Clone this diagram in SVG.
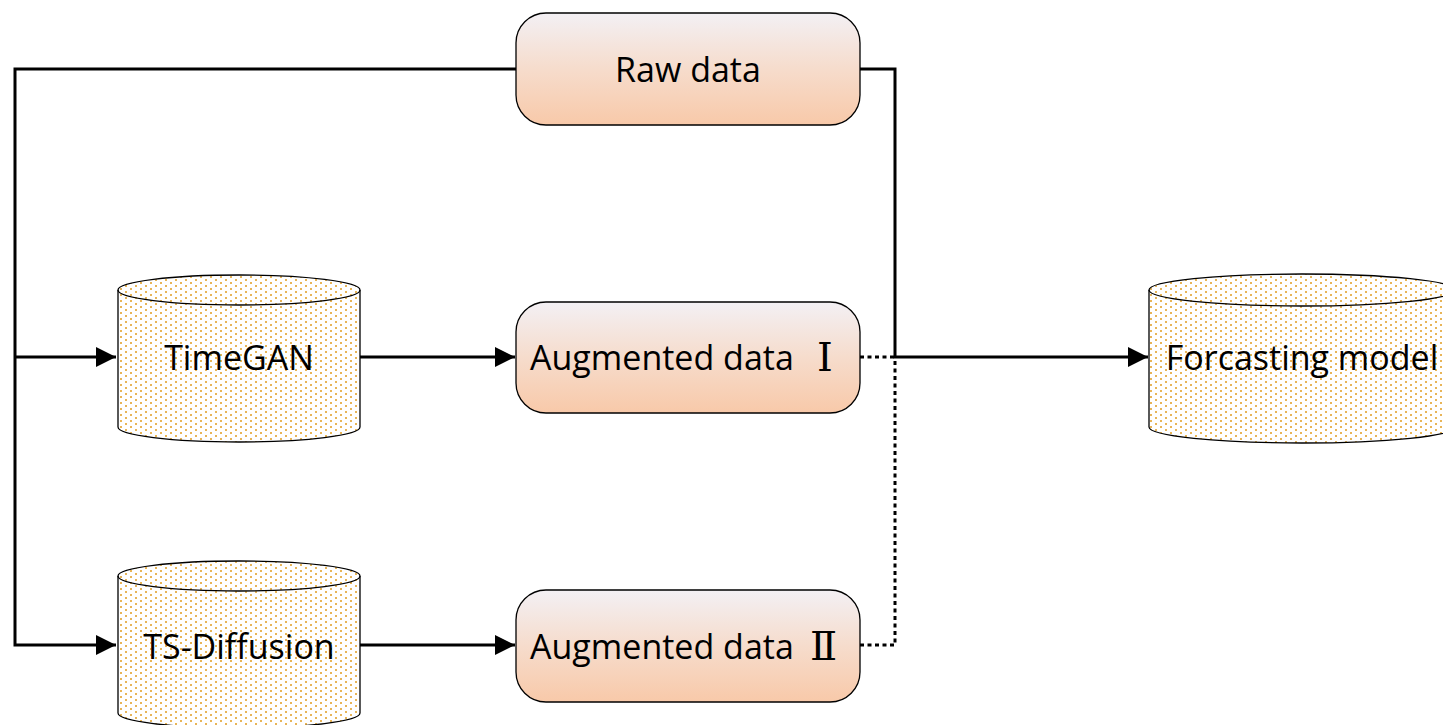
<svg xmlns="http://www.w3.org/2000/svg" width="1443" height="725" viewBox="0 0 1443 725">
<style>
  .box { stroke: #000; stroke-width: 1.3; fill: url(#peach); }
  .cyl { stroke: #000; stroke-width: 1.3; fill: url(#dots); }
  .cyltop { stroke: #000; stroke-width: 1.3; fill: none; }
  .lbl { font-family: "Open Sans", "Noto Sans", sans-serif; font-size: 34px; fill: #000; text-anchor: middle; dominant-baseline: central; }
  .lbls { font-family: "Open Sans", "Noto Sans", sans-serif; font-size: 34px; fill: #000; text-anchor: start; dominant-baseline: central; }
  .num { font-family: "DejaVu Serif", "Liberation Serif", serif; font-size: 40px; font-weight: normal; }
  .conn { stroke: #000; stroke-width: 3; fill: none; }
  .dot { stroke: #000; stroke-width: 3; fill: none; stroke-dasharray: 4 3.5; }
</style>
<defs>
  <linearGradient id="peach" x1="0" y1="0" x2="0" y2="1">
    <stop offset="0" stop-color="#f3f0f4"/>
    <stop offset="0.5" stop-color="#f6dccc"/>
    <stop offset="1" stop-color="#f8c9a9"/>
  </linearGradient>
  <pattern id="dots" patternUnits="userSpaceOnUse" width="10" height="6">
    <rect width="10" height="6" fill="#fff"/>
    <rect x="0" y="0" width="2" height="2" fill="#e8b558"/>
    <rect x="5" y="3" width="2" height="2" fill="#e8b558"/>
  </pattern>
  <marker id="arr" markerUnits="userSpaceOnUse" markerWidth="22" markerHeight="22" refX="20" refY="10" orient="auto">
    <path d="M0,0 L20,10 L0,20 Z" fill="#000"/>
  </marker>
</defs>

<g id="connectors">
  <polyline class="conn" points="516,69 15,69 15,645 116,645" marker-end="url(#arr)"/>
  <line class="conn" x1="15" y1="357" x2="116" y2="357" marker-end="url(#arr)"/>
  <line class="conn" x1="360" y1="357" x2="515" y2="357" marker-end="url(#arr)"/>
  <line class="conn" x1="360" y1="645" x2="515" y2="645" marker-end="url(#arr)"/>
  <polyline class="conn" points="860,69 895,69 895,357 1148,357" marker-end="url(#arr)"/>
  <line class="dot" x1="860" y1="357" x2="895" y2="357"/>
  <polyline class="dot" points="860,645 895,645 895,357"/>
</g>

<g id="raw-data">
  <rect class="box" x="516" y="13" width="344" height="112" rx="30" ry="30"/>
  <text class="lbl" x="688" y="69">Raw data</text>
</g>

<g id="aug1">
  <rect class="box" x="516" y="302" width="344" height="111" rx="30" ry="30"/>
  <text class="lbls" x="530" y="357">Augmented data <tspan class="num" x="817">Ⅰ</tspan></text>
</g>

<g id="aug2">
  <rect class="box" x="516" y="590" width="344" height="112" rx="30" ry="30"/>
  <text class="lbls" x="530" y="646">Augmented data <tspan class="num" x="810">Ⅱ</tspan></text>
</g>

<g id="timegan">
  <path class="cyl" d="M118,290 A121,15 0 0 1 360,290 L360,427 A121,15 0 0 1 118,427 Z"/>
  <path class="cyltop" d="M118,290 A121,15 0 0 0 360,290"/>
  <text class="lbl" x="239" y="357">TimeGAN</text>
</g>

<g id="tsdiffusion">
  <path class="cyl" d="M118,576 A121,15 0 0 1 360,576 L360,713 A121,15 0 0 1 118,713 Z"/>
  <path class="cyltop" d="M118,576 A121,15 0 0 0 360,576"/>
  <text class="lbl" x="239" y="646">TS-Diffusion</text>
</g>

<g id="forecast">
  <path class="cyl" d="M1149,290 A153,16 0 0 1 1455,290 L1455,427 A153,16 0 0 1 1149,427 Z"/>
  <path class="cyltop" d="M1149,290 A153,16 0 0 0 1455,290"/>
  <text class="lbl" x="1302" y="357">Forcasting model</text>
</g>
</svg>
